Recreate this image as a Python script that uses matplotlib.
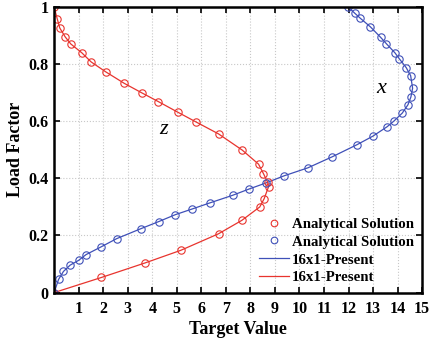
import matplotlib
matplotlib.use('Agg')
import matplotlib.pyplot as plt

plt.rcParams['font.family'] = 'Liberation Serif'
plt.rcParams['font.weight'] = 'bold'

# z component (red)
z_val = [0, 0.13, 0.23, 0.45, 0.68, 1.13, 1.51, 2.11, 2.86, 3.59, 4.25, 5.04, 5.80,
         6.70, 7.67, 8.33, 8.53, 8.70, 8.74, 8.56, 8.38, 7.65, 6.70, 5.16, 3.71, 1.93, 0]
z_load = [1.0, 0.958, 0.927, 0.896, 0.871, 0.840, 0.808, 0.773, 0.733, 0.699, 0.669, 0.632, 0.597,
          0.556, 0.499, 0.450, 0.417, 0.387, 0.371, 0.329, 0.300, 0.253, 0.206, 0.148, 0.104, 0.053, 0.0]

# x component (blue)
x_val = [0, 0.18, 0.38, 0.65, 1.00, 1.30, 1.91, 2.55, 3.54, 4.27, 4.94, 5.63, 6.34, 7.28,
         7.95, 8.63, 9.37, 10.34, 11.34, 12.34, 12.99, 13.57, 13.85, 14.19, 14.42, 14.54,
         14.61, 14.53, 14.35, 14.07, 13.89, 13.54, 13.31, 12.89, 12.48, 12.25, 11.99]
x_load = [0.0, 0.046, 0.074, 0.096, 0.113, 0.133, 0.160, 0.189, 0.224, 0.249, 0.273, 0.293,
          0.314, 0.341, 0.363, 0.384, 0.409, 0.437, 0.476, 0.518, 0.548, 0.581, 0.601, 0.629,
          0.658, 0.685, 0.716, 0.760, 0.788, 0.819, 0.840, 0.872, 0.894, 0.931, 0.961, 0.979, 1.0]

red = '#e8342e'
blue = '#3f50b8'

fig = plt.figure(figsize=(4.33, 3.41), dpi=100)
ax = fig.add_axes([0.125, 0.142, 0.85, 0.837])

# solution lines
l_blue, = ax.plot(x_val, x_load, color=blue, lw=0.9, label='16x1-Present')
l_red, = ax.plot(z_val, z_load, color=red, lw=0.9, label='16x1-Present')
# analytical markers
m_red, = ax.plot(z_val, z_load, 'o', mfc='none', mec=red, ms=5.3, mew=0.8,
                 label='Analytical Solution')
m_blue, = ax.plot(x_val, x_load, 'o', mfc='none', mec=blue, ms=5.3, mew=0.8,
                  label='Analytical Solution')

ax.set_xlim(0, 15)
ax.set_ylim(0, 1)
ax.set_xticks(range(1, 16))
ax.set_yticks([0, 0.2, 0.4, 0.6, 0.8, 1.0])
ax.set_yticklabels(['0', '0.2', '0.4', '0.6', '0.8', '1'])
ax.tick_params(direction='in', top=True, right=True, length=4, width=1.2,
               labelsize=11.5)
ax.tick_params(axis='x', pad=6)
ax.tick_params(axis='y', pad=4)
for lab in ax.get_xticklabels() + ax.get_yticklabels():
    lab.set_fontweight('bold')
for sp in ax.spines.values():
    sp.set_linewidth(1.8)
ax.grid(True, linestyle=':', color='#c8c8c8', linewidth=0.8)

ax.set_xlabel('Target Value', fontsize=13, fontweight='bold', labelpad=3)
ax.set_ylabel('Load Factor', fontsize=13, fontweight='bold', labelpad=3)

ax.text(4.44, 0.57, 'z', fontsize=16, fontstyle='italic', fontweight='normal',
        ha='center', va='center')
ax.text(13.33, 0.714, 'x', fontsize=16, fontstyle='italic', fontweight='normal',
        ha='center', va='center')

leg = ax.legend(handles=[m_red, m_blue, l_blue, l_red], loc='lower right',
                frameon=False, handlelength=2.0, handletextpad=0.2,
                labelspacing=0.3, borderaxespad=0.15, markerscale=0.9,
                prop={'weight': 'bold', 'size': 10.7})

fig.savefig('out.png', dpi=100)
